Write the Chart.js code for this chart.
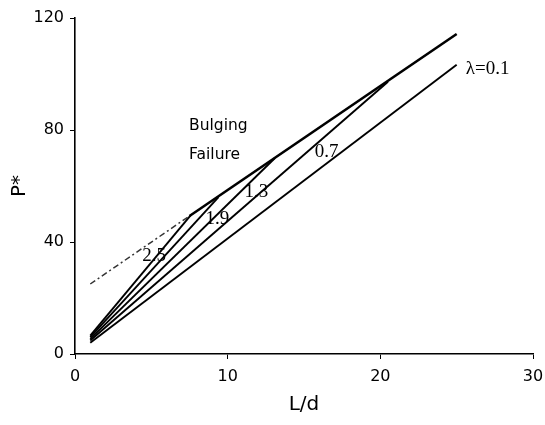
<!DOCTYPE html>
<html>
<head>
<meta charset="utf-8">
<script src="https://cdn.jsdelivr.net/npm/chart.js@4"></script>
<style>
  html, body { margin: 0; padding: 0; background: #fff; }
  #wrap { width: 545px; height: 425px; }
</style>
</head>
<body>
<div id="wrap"><canvas id="chart"></canvas></div>
<script>
// data (x = L/d, y = P*)
const xTicks = [0, 10, 20, 30];
const yTicks = [0, 40, 80, 120];

// bulging failure envelope: dash-dot part then solid part
const bulgeDashX = [1, 7.5];
const bulgeDashY = [25, 49.3];
const bulgeX = [7.5, 25];
const bulgeY = [49.3, 114.3];

// lambda curves: start near L/d = 1, straight up to the envelope
const lambdas = ['2.5', '1.9', '1.3', '0.7', '0.1'];
const curveX = [[1, 7.6], [1, 9.4], [1, 13.1], [1, 20.5], [1, 25]];
const curveY = [[6.6, 49.7], [6.0, 56.0], [5.4, 70.0], [4.8, 97.2], [4.0, 103.3]];

// in-plot annotations (data coordinates, left edge / middle)
const noteText = ['2.5', '1.9', '1.3', '0.7', 'λ=0.1'];
const noteX = [4.4, 8.55, 11.1, 15.7, 25.6];
const noteY = [35, 48.3, 58, 72.3, 101.8];

const toPts = (xs, ys) => xs.map((x, i) => ({ x: x, y: ys[i] }));

const datasets = [
  { data: toPts(bulgeDashX, bulgeDashY), borderColor: '#333', borderWidth: 1.5, borderDash: [6, 3, 2, 3] },
  { data: toPts(bulgeX, bulgeY), borderColor: '#000', borderWidth: 2.6 }
];
lambdas.forEach((l, i) => {
  datasets.push({ data: toPts(curveX[i], curveY[i]), borderColor: '#000', borderWidth: 1.9 });
});

// draws the curve labels and the "Bulging Failure" note
const notes = {
  id: 'notes',
  afterDatasetsDraw(chart) {
    const { ctx, scales } = chart;
    ctx.save();
    ctx.fillStyle = '#000';
    ctx.textBaseline = 'middle';
    ctx.textAlign = 'left';
    ctx.font = '19px "Liberation Serif", "Times New Roman", serif';
    noteText.forEach((t, i) => {
      ctx.fillText(t, scales.x.getPixelForValue(noteX[i]), scales.y.getPixelForValue(noteY[i]));
    });
    ctx.font = '15.5px "DejaVu Sans", Verdana, sans-serif';
    ctx.fillText('Bulging', scales.x.getPixelForValue(7.47), scales.y.getPixelForValue(81.3));
    ctx.fillText('Failure', scales.x.getPixelForValue(7.47), scales.y.getPixelForValue(71.1));
    ctx.restore();
  }
};

const axisFont = { family: '"DejaVu Sans", Verdana, sans-serif', size: 16 };

new Chart(document.getElementById('chart'), {
  type: 'line',
  data: { datasets: datasets },
  options: {
    responsive: true,
    maintainAspectRatio: false,
    animation: false,
    events: [],
    layout: { padding: { top: 18, right: 12, left: 0, bottom: 0 } },
    elements: { point: { radius: 0 }, line: { tension: 0 } },
    plugins: { legend: { display: false }, tooltip: { enabled: false } },
    scales: {
      x: {
        type: 'linear', min: 0, max: 30,
        afterBuildTicks: (ax) => { ax.ticks = xTicks.map(v => ({ value: v })); },
        // the "30" label may run to the page edge, as in the original
        afterFit: (ax) => { ax.height = 71; ax.paddingRight = 0; ax.paddingLeft = 0; },
        ticks: { color: '#000', font: axisFont, padding: 8 },
        grid: { drawOnChartArea: false, color: '#000', tickLength: 5 },
        border: { color: '#000', width: 1.6 },
        title: { display: true, text: 'L/d', color: '#000', font: { family: axisFont.family, size: 20 }, padding: { top: 0, bottom: 8 } }
      },
      y: {
        type: 'linear', min: 0, max: 120,
        afterBuildTicks: (ax) => { ax.ticks = yTicks.map(v => ({ value: v })); },
        afterFit: (ax) => { ax.width = 75; ax.paddingTop = 0; ax.paddingBottom = 0; },
        ticks: { color: '#000', font: axisFont, padding: 6 },
        grid: { drawOnChartArea: false, color: '#000', tickLength: 5 },
        border: { color: '#000', width: 1.6 },
        title: { display: true, text: 'P*', color: '#000', font: { family: axisFont.family, size: 20 }, padding: { top: 8 } }
      }
    }
  },
  plugins: [notes]
});
</script>
</body>
</html>
